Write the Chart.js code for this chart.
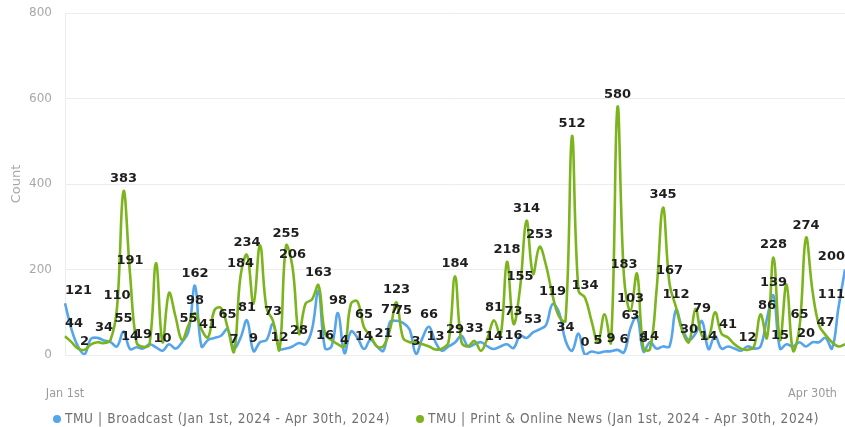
<!DOCTYPE html>
<html>
<head>
<meta charset="utf-8">
<script src="https://cdn.jsdelivr.net/npm/chart.js@4.4.1/dist/chart.umd.min.js"></script>
<style>
  body { margin: 0; background: #fff; }
  canvas { display: block; }
</style>
</head>
<body>
<canvas id="mycanvas" width="845" height="427"></canvas>
<script>
// one point per day, Jan 1st - Apr 30th 2024
var days = [];
var d0 = new Date(2024, 0, 1);
for (var i = 0; i < 121; i++) {
    var d = new Date(d0.getTime() + i * 86400000);
    days.push(d.toISOString().slice(0, 10));
}

var seriesNames = [
    'TMU | Broadcast (Jan 1st, 2024 - Apr 30th, 2024)',
    'TMU | Print & Online News (Jan 1st, 2024 - Apr 30th, 2024)'
];

var broadcast = [
    121, 60, 20, 2, 38, 40, 34, 30, 20, 55,
    14, 18, 15, 25, 18, 10, 25, 15, 30, 55,
    162, 20, 35, 40, 45, 60, 16, 40, 81, 9,
    30, 35, 73, 15, 15, 20, 28, 25, 60, 150,
    16, 20, 98, 4, 55, 40, 14, 35, 20, 10,
    77, 80, 75, 60, 3, 40, 66, 30, 10, 20,
    29, 45, 20, 25, 30, 20, 14, 20, 25, 16,
    45, 40, 53, 60, 70, 119, 100, 34, 10, 50,
    0, 8, 5, 8, 9, 12, 6, 63, 90, 8,
    30, 15, 20, 20, 105, 60, 35, 50, 79, 14,
    45, 15, 20, 15, 10, 20, 15, 20, 86, 139,
    15, 25, 20, 30, 20, 30, 30, 40, 15, 111,
    200
];

var printOnline = [
    44, 30, 15, 12, 25, 30, 28, 35, 110, 383,
    191, 30, 19, 25, 215, 30, 145, 90, 35, 70,
    98, 60, 41, 105, 110, 65, 7, 184, 234, 120,
    257, 110, 80, 12, 255, 206, 50, 120, 130, 163,
    50, 35, 25, 20, 120, 125, 65, 45, 20, 21,
    60, 123, 40, 30, 30, 25, 20, 13, 15, 30,
    184, 30, 20, 33, 10, 40, 81, 45, 218, 73,
    155, 314, 190, 253, 210, 140, 90, 80, 512, 150,
    134, 80, 30, 95, 30, 580, 183, 103, 190, 15,
    14, 150, 345, 167, 112, 55, 30, 108, 45, 40,
    100, 50, 41, 25, 15, 12, 20, 95, 40, 228,
    35, 165, 10, 65, 274, 150, 70, 47, 30, 20,
    25
];

// which points carry a value label
var broadcastLabelled = [0, 3, 6, 9, 10, 15, 19, 20, 28, 29, 32, 36, 40, 42, 43, 46, 50, 52, 54, 56, 60, 66, 69, 72, 75, 77, 80, 82, 84, 86, 87, 89, 98, 99, 108, 109, 110, 114, 119, 120];
var printLabelled = [0, 8, 9, 10, 12, 20, 22, 25, 26, 27, 28, 33, 34, 35, 39, 46, 49, 51, 57, 60, 63, 66, 68, 69, 70, 71, 73, 78, 80, 85, 86, 87, 90, 92, 93, 94, 96, 102, 105, 109, 113, 114, 117];

var tickIndex = [0, 115];
var tickText = ['Jan 1st', 'Apr 30th'];

var blue = '#56a4ea';
var green = '#7bb41c';
var condensed = '"DejaVu Sans Condensed", "Liberation Sans Narrow", sans-serif';

var valueLabels = {
    id: 'valueLabels',
    afterDatasetsDraw: function(chart) {
        var ctx = chart.ctx;
        var area = chart.chartArea;
        ctx.save();
        ctx.font = 'bold 13px "DejaVu Sans", sans-serif';
        ctx.fillStyle = '#1e1e1e';
        ctx.textAlign = 'center';
        ctx.textBaseline = 'bottom';
        chart.data.datasets.forEach(function(ds, di) {
            var meta = chart.getDatasetMeta(di);
            ds.labelled.forEach(function(idx) {
                var pt = meta.data[idx];
                var txt = String(ds.data[idx]);
                var w = ctx.measureText(txt).width;
                var x = Math.min(Math.max(pt.x, area.left + w / 2), area.right - w / 2);
                ctx.fillText(txt, x, pt.y - 6);
            });
        });
        ctx.restore();
    }
};

var bottomLegend = {
    id: 'bottomLegend',
    afterDraw: function(chart) {
        var ctx = chart.ctx;
        ctx.save();
        ctx.font = '13.5px ' + condensed;
        ctx.letterSpacing = '0.6px';
        ctx.textBaseline = 'middle';
        ctx.textAlign = 'left';
        var x = 57, y = 419;
        chart.data.datasets.forEach(function(ds) {
            ctx.fillStyle = ds.borderColor;
            ctx.beginPath();
            ctx.arc(x, y, 4, 0, Math.PI * 2);
            ctx.fill();
            ctx.fillStyle = '#707070';
            ctx.fillText(ds.label, x + 8, y);
            x += 8 + ctx.measureText(ds.label).width + 30;
        });
        ctx.restore();
    }
};

var chartdata = {
    labels: days,
    datasets: [
        {
            label: seriesNames[0],
            data: broadcast,
            labelled: broadcastLabelled,
            borderColor: blue,
            backgroundColor: blue,
            order: 1
        },
        {
            label: seriesNames[1],
            data: printOnline,
            labelled: printLabelled,
            borderColor: green,
            backgroundColor: green,
            order: 0
        }
    ]
};

var ctx = document.getElementById('mycanvas');
var lineGraph = new Chart(ctx, {
    type: 'line',
    data: chartdata,
    plugins: [valueLabels, bottomLegend],
    options: {
        responsive: false,
        animation: false,
        layout: { padding: { top: 13, right: 0, bottom: 26, left: 0 } },
        elements: {
            point: { radius: 0 },
            line: { tension: 0.4, borderWidth: 2.6 }
        },
        plugins: {
            legend: { display: false },
            tooltip: { enabled: false }
        },
        scales: {
            x: {
                grid: { display: false, drawTicks: true, tickLength: 31 },
                border: { display: false },
                ticks: {
                    autoSkip: false,
                    maxRotation: 0,
                    padding: 0,
                    color: '#9a9a9a',
                    font: { family: condensed, size: 12.5 },
                    callback: function(v, i) {
                        var k = tickIndex.indexOf(i);
                        return k >= 0 ? tickText[k] : '';
                    }
                },
                afterFit: function(scale) { scale.height = 46; }
            },
            y: {
                min: 0,
                max: 800,
                ticks: {
                    stepSize: 200,
                    padding: 0,
                    color: '#a8a8a8',
                    font: { family: '"DejaVu Sans", sans-serif', size: 12 }
                },
                grid: { color: '#ededed', drawTicks: true, tickLength: 13, tickColor: 'rgba(0,0,0,0)' },
                border: { display: true, color: '#ededed' },
                title: {
                    display: true,
                    text: 'Count',
                    color: '#a8a8a8',
                    font: { family: '"DejaVu Sans", sans-serif', size: 13 },
                    padding: { top: 9, bottom: 0 }
                },
                afterFit: function(scale) { scale.width = 65; }
            }
        }
    }
});
</script>
</body>
</html>
